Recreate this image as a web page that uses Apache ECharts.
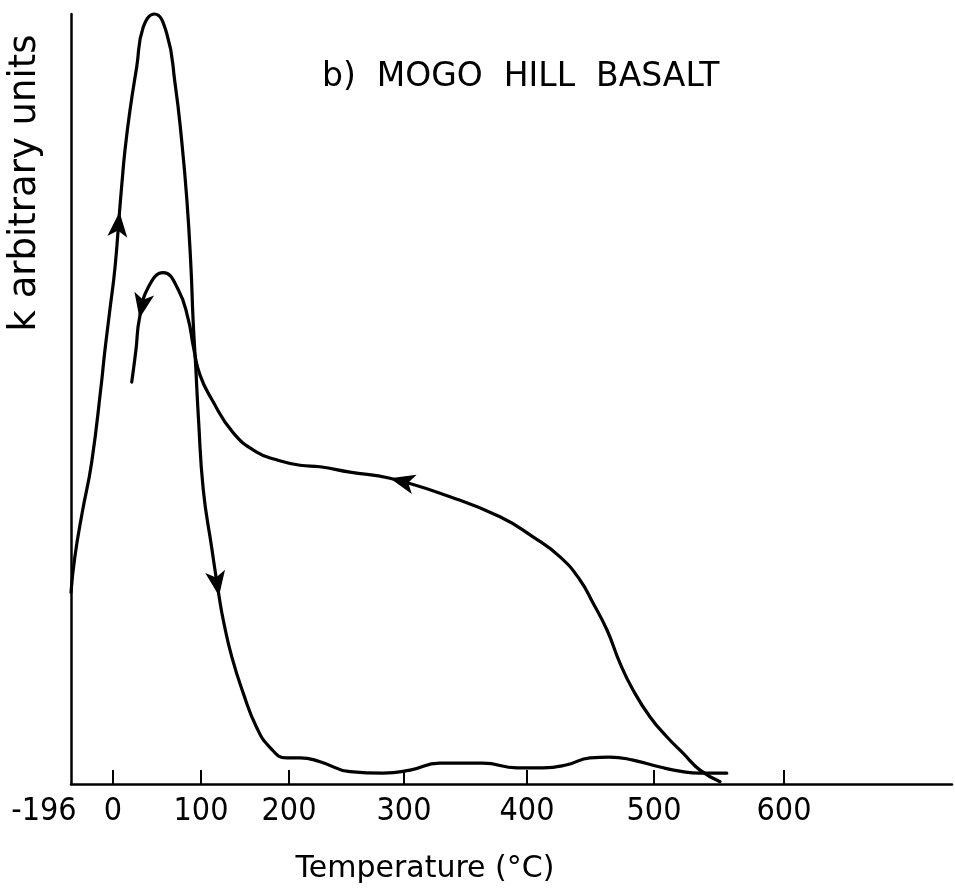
<!DOCTYPE html>
<html>
<head>
<meta charset="utf-8">
<script src="https://cdn.jsdelivr.net/npm/echarts@6/dist/echarts.min.js"></script>
<style>
  html, body { margin: 0; padding: 0; background: #fff; }
  #chart { width: 955px; height: 889px; }
</style>
</head>
<body>
<div id="chart"></div>
<script>
// k vs temperature, thermomagnetic run (heating then cooling)

// printed temperature scale is not linear: where each labelled value sits along the axis
const scaleTemps = [-196, 0, 100, 200, 300, 400, 500, 600];
const scalePos   = [0, 42, 130, 218, 333, 456, 583, 713];
const axisEndPos = 881;

// heating run, -196 -> ~555 C
const heatT = [-196, -178, -144, -100, -55, -39, -14.5, 2.3, 7.4, 10.2, 13.6, 19.3, 26.9, 34.4, 47,
  61, 70.5, 78, 84, 88.6, 91, 94, 97.2, 102.6, 112, 120.5, 125.3, 135, 148, 163, 178, 197,
  209.6, 227, 253, 282, 305, 329, 364, 392, 412.6, 431.5, 449.6, 465, 483.5, 504.6, 522, 535, 556];
const heatK = [24.9, 29.5, 35.2, 41.7, 51.8, 56.0, 61.6, 67.1, 74.3, 78.1, 82.3, 87.5, 93.1, 98.3, 100,
  97.5, 91.0, 83.6, 75.8, 67.1, 60.3, 54.2, 47.3, 38.2, 30.8, 24.4, 21.3, 16.5, 11.8, 7.4, 4.8, 3.4,
  3.4, 2.9, 1.6, 1.4, 1.8, 2.7, 2.7, 2.1, 2.1, 2.5, 3.4, 3.5, 3.1, 2.2, 1.6, 1.4, 1.4];

// cooling run, ~550 C back down to room temperature
const coolT = [550.8, 535.4, 522.3, 510, 496.9, 483.5, 473.2, 463, 452, 441.7, 426, 404.7, 378, 337.4,
  287.8, 253, 227, 209.6, 186, 163.3, 136.7, 112.5, 98.9, 91.3, 85.6, 74.2, 57.2, 40.1, 30.1, 26.1, 21.3];
const coolK = [0.3, 1.8, 4.0, 6.1, 8.7, 12.2, 15.7, 20.0, 23.5, 26.5, 29.5, 32.1, 34.7, 37.3,
  39.7, 40.5, 41.2, 41.4, 42.1, 43.1, 45.6, 49.9, 53.1, 56.8, 60.3, 64.2, 66.4, 64.5, 60.5, 56.4, 52.2];

// direction arrows: temperature of the point they sit on + rotation (deg, ccw)
const heatArrows = [[7.4, -5], [120.5, 189]];
const coolArrows = [[287.8, 76], [30.1, 169]];

const tickTemps = [0, 100, 200, 300, 400, 500, 600];

const FONT_NUM = '"DejaVu Sans Condensed", "DejaVu Sans", sans-serif';
const FONT = '"DejaVu Sans", sans-serif';

function toPos(t) {
  let i = 0;
  while (i < scaleTemps.length - 2 && t > scaleTemps[i + 1]) i++;
  const t0 = scaleTemps[i], t1 = scaleTemps[i + 1];
  const p0 = scalePos[i], p1 = scalePos[i + 1];
  return p0 + (t - t0) / (t1 - t0) * (p1 - p0);
}

function labelFor(p) {
  let best = 0;
  scalePos.forEach((q, i) => { if (Math.abs(q - p) < Math.abs(scalePos[best] - p)) best = i; });
  return scaleTemps[best];
}

function buildSeries(ts, ks, arrows) {
  return ts.map((t, i) => {
    const item = { value: [toPos(t), ks[i]] };
    const a = arrows.find(x => x[0] === t);
    if (a) {
      item.symbol = 'arrow';
      item.symbolSize = [15, 25];
      item.symbolRotate = a[1];
    }
    return item;
  });
}

const chart = echarts.init(document.getElementById('chart'), null, { renderer: 'canvas' });

const lineSeries = (name, data) => ({
  name,
  type: 'line',
  data,
  smooth: 0.5,
  symbol: 'none',
  showSymbol: true,
  showAllSymbol: true,
  clip: false,
  silent: true,
  lineStyle: { color: '#000', width: 3.2, cap: 'round', join: 'round' },
  itemStyle: { color: '#000', borderWidth: 0 },
  emphasis: { disabled: true }
});

chart.setOption({
  animation: false,
  backgroundColor: '#fff',
  title: {
    text: 'b)  MOGO  HILL  BASALT',
    left: 317, top: 56,
    textStyle: { fontFamily: FONT, fontSize: 33, fontWeight: 'normal', color: '#000' }
  },
  graphic: [{
    type: 'text',
    x: 25, y: 183,
    rotation: Math.PI / 2,
    style: {
      text: 'k arbitrary units',
      fontFamily: FONT, fontSize: 37, fill: '#000',
      align: 'center', verticalAlign: 'middle'
    }
  }],
  grid: { left: 71, right: 3, top: 14, bottom: 105 },
  xAxis: {
    type: 'value',
    min: 0, max: axisEndPos,
    name: 'Temperature (°C)',
    nameLocation: 'middle',
    nameGap: 70,
    nameTextStyle: { fontFamily: FONT, fontSize: 30, color: '#000', padding: [0, 173, 0, 0] },
    axisLine: { show: true, lineStyle: { color: '#000', width: 2.5 } },
    axisTick: {
      show: true, inside: true, length: 14,
      customValues: tickTemps.map(toPos),
      lineStyle: { color: '#000', width: 2 }
    },
    axisLabel: {
      show: true, margin: 12,
      customValues: scaleTemps.map(toPos),
      fontFamily: FONT_NUM, fontSize: 32, color: '#000',
      formatter: v => {
        const t = labelFor(v);
        return t === -196 ? '{m|-196}' : String(t);
      },
      rich: { m: { fontFamily: FONT_NUM, fontSize: 32, color: '#000', padding: [0, 54, 0, 0] } }
    },
    splitLine: { show: false }
  },
  yAxis: {
    type: 'value',
    min: 0, max: 100,
    axisLine: { show: true, lineStyle: { color: '#000', width: 2.5 } },
    axisTick: { show: false },
    axisLabel: { show: false },
    splitLine: { show: false }
  },
  series: [
    lineSeries('heating', buildSeries(heatT, heatK, heatArrows)),
    lineSeries('cooling', buildSeries(coolT, coolK, coolArrows))
  ]
});
</script>
</body>
</html>
